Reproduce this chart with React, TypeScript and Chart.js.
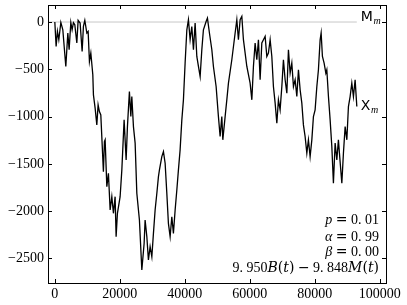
import React, { useEffect, useRef } from 'react';
import { Chart, registerables } from 'chart.js';

Chart.register(...registerables);

// Path of X(t) (t, value)
const tValues = [
  0, 400, 800, 1230, 1850, 2460, 3380, 4000, 4400, 4920, 5320, 5720, 6150, 6770, 7170, 7780, 8400, 8800, 9230, 9850,
  10250, 10650, 11080, 11690, 11880, 12400, 12920, 13320, 13720, 14150, 14950, 15260, 15480, 16000, 16490, 17020, 17540, 18030, 18550, 18860,
  19260, 20090, 20620, 21320, 21940, 22340, 22950, 23390, 23690, 24190, 24710, 25230, 26030, 26770, 27480, 27780, 28310, 28800, 29320, 29850,
  30340, 30860, 31390, 31880, 32190, 32920, 33420, 33940, 34460, 34950, 35480, 36000, 36490, 37020, 37540, 38030, 38550, 39080, 39570, 40090,
  40620, 41110, 41630, 42150, 42650, 43170, 43690, 44190, 44710, 45230, 45720, 46550, 46960, 47570, 48310, 48800, 49630, 50340, 50860, 51380,
  51690, 52400, 52920, 53420, 54460, 55480, 56000, 56490, 57020, 57540, 58030, 59080, 60090, 60620, 61110, 61630, 62150, 62650, 63170, 63690,
  64190, 64710, 65230, 65720, 66250, 66770, 67260, 67790, 68310, 68800, 69320, 69850, 70340, 70860, 71390, 71880, 72400, 72920, 73420, 73940,
  74460, 74960, 75480, 76000, 76490, 77010, 77540, 78030, 78550, 79080, 79570, 80090, 80620, 81110, 81630, 81940, 82340, 82860, 83390, 83690,
  84190, 84710, 85230, 85720, 86250, 86770, 87260, 87570, 88310, 88800, 89330, 89850, 90340, 90860, 91380, 91880, 92400, 92920,
];
const xValues = [
  0, -258, -100, -187, -4, -82, -470, -116, -293, -4, -82, -7, -29, -222, 17, -11, -311, -47, 17, -116,
  -100, -417, -328, -558, -770, -910, -1088, -876, -947, -982, -1582, -1264, -1246, -1741, -1599, -1988, -1847, -2023, -1847, -2270,
  -2023, -1847, -1564, -1035, -1459, -1106, -735, -1000, -788, -1106, -1281, -1811, -2094, -2623, -2340, -2094, -2270, -2517, -2376, -2482,
  -2235, -1988, -1811, -1635, -1564, -1423, -1370, -1493, -1811, -2129, -2270, -2059, -2235, -1988, -1776, -1564, -1352, -1035, -823, -434,
  -82, 24, -187, -47, -293, -11, -364, -470, -576, -293, -82, 6, 42, -116, -293, -470, -682, -1000, -1211, -1000,
  -1246, -1000, -823, -646, -399, -116, 24, -187, 24, 59, -187, -470, -646, -823, -470, -222, -399, -187, -611, -222,
  -187, -152, -364, -328, -187, -364, -682, -858, -1070, -823, -929, -682, -399, -611, -752, -293, -540, -434, -682, -611,
  -788, -505, -717, -858, -1088, -1211, -1387, -1246, -1423, -1246, -1000, -929, -682, -505, -187, -116, -364, -434, -540, -505,
  -788, -1035, -1317, -1705, -1281, -1458, -1246, -1387, -1705, -1387, -1106, -1246, -894, -788, -646, -788, -611, -894,
];

// Reference level M_m
const mLineT = [-2100, 92920];
const mLineV = [0, 0];

const xTicks = [0, 20000, 40000, 60000, 80000, 100000];
const yTicks = [0, -500, -1000, -1500, -2000, -2500];

const X_MIN = -2100;
const X_MAX = 101900;
const Y_MIN = -2760;
const Y_MAX = 180;

const labelM = { t: 94150, v: 53 };
const labelX = { t: 94150, v: -894 };

const SERIF = '"Liberation Serif", "DejaVu Serif", serif';
const DSERIF = '"DejaVu Serif", serif';
const R = `14px ${SERIF}`;
const I = `italic 14px ${SERIF}`;
const DI = `italic 14px ${DSERIF}`;
const DR = `14px ${DSERIF}`;
const SYM = '14px "DejaVu Sans", sans-serif';

const infoLines = [
  [{ t: 'p', f: I }, { t: ' ', f: R }, { t: '=', f: SYM }, { t: ' 0. 01', f: R }],
  [{ t: 'α', f: I }, { t: ' ', f: R }, { t: '=', f: SYM }, { t: ' 0. 99', f: R }],
  [{ t: 'β', f: I }, { t: ' ', f: R }, { t: '=', f: SYM }, { t: ' 0. 00', f: R }],
  [
    { t: '9. 950', f: R }, { t: 'B', f: DI }, { t: '(', f: DR }, { t: 't', f: DI }, { t: ')', f: DR },
    { t: ' ', f: R }, { t: '−', f: SYM }, { t: ' 9. 848', f: R }, { t: 'M', f: DI }, { t: '(', f: DR }, { t: 't', f: DI }, { t: ')', f: DR },
  ],
];

const fmt = (v: number) => (v < 0 ? '\u2212' + Math.abs(v) : String(v));

function drawRich(ctx: CanvasRenderingContext2D, segs: { t: string; f: string }[], xRight: number, y: number) {
  let total = 0;
  for (const s of segs) {
    ctx.font = s.f;
    total += ctx.measureText(s.t).width;
  }
  let x = xRight - total;
  for (const s of segs) {
    ctx.font = s.f;
    ctx.fillText(s.t, x, y);
    x += ctx.measureText(s.t).width;
  }
}

const framePlugin = {
  id: 'frameAndText',
  afterDraw(chart: any) {
    const { ctx, chartArea: a, scales } = chart;
    const xs = scales.x;
    const ys = scales.y;
    ctx.save();
    ctx.strokeStyle = '#000';
    ctx.lineWidth = 1;
    ctx.strokeRect(Math.round(a.left) + 0.5, Math.round(a.top) + 0.5, Math.round(a.right - a.left), Math.round(a.bottom - a.top));
    const TL = 4;
    ctx.beginPath();
    for (const v of xTicks) {
      const px = Math.round(xs.getPixelForValue(v)) + 0.5;
      ctx.moveTo(px, a.bottom);
      ctx.lineTo(px, a.bottom - TL);
      ctx.moveTo(px, a.top);
      ctx.lineTo(px, a.top + TL);
    }
    for (const v of yTicks) {
      const py = Math.round(ys.getPixelForValue(v)) + 0.5;
      ctx.moveTo(a.left, py);
      ctx.lineTo(a.left + TL, py);
      ctx.moveTo(a.right, py);
      ctx.lineTo(a.right - TL, py);
    }
    ctx.stroke();

    ctx.fillStyle = '#000';
    ctx.textBaseline = 'middle';
    ctx.textAlign = 'left';
    const drawSub = (main: string, lab: { t: number; v: number }) => {
      const px = xs.getPixelForValue(lab.t);
      const py = ys.getPixelForValue(lab.v);
      ctx.font = '14px "DejaVu Sans", sans-serif';
      ctx.fillText(main, px, py);
      const w = ctx.measureText(main).width;
      ctx.font = `italic 10px ${SERIF}`;
      ctx.fillText('m', px + w + 0.5, py + 4);
    };
    drawSub('M', labelM);
    drawSub('X', labelX);

    const xr = a.right - 7;
    const base = [a.bottom - 63, a.bottom - 46, a.bottom - 31, a.bottom - 15];
    infoLines.forEach((segs, i) => drawRich(ctx, segs, xr, base[i]));
    ctx.restore();
  },
};

export default function App() {
  const ref = useRef<HTMLCanvasElement | null>(null);
  useEffect(() => {
    if (!ref.current) return;
    const tickFont = { family: SERIF, size: 14 };
    const chart = new Chart(ref.current, {
      type: 'line',
      data: {
        datasets: [
          {
            label: 'X',
            data: tValues.map((t, i) => ({ x: t, y: xValues[i] })),
            borderColor: '#000',
            borderWidth: 1.3,
            pointRadius: 0,
            tension: 0,
            order: 0,
          },
          {
            label: 'M',
            data: mLineT.map((t, i) => ({ x: t, y: mLineV[i] })),
            borderColor: '#c8c8c8',
            borderWidth: 1,
            pointRadius: 0,
            tension: 0,
            order: 1,
          },
        ],
      },
      options: {
        responsive: false,
        animation: false,
        events: [],
        layout: { padding: { left: 0, right: 21, top: 5, bottom: 0 } },
        plugins: { legend: { display: false }, tooltip: { enabled: false } },
        scales: {
          x: {
            type: 'linear',
            min: X_MIN,
            max: X_MAX,
            grid: { display: false, drawTicks: false },
            border: { display: false },
            afterBuildTicks: (s: any) => {
              s.ticks = xTicks.map((v) => ({ value: v }));
            },
            afterFit: (s: any) => {
              s.height = 22;
              s.paddingLeft = 0;
              s.paddingRight = 0;
            },
            ticks: {
              font: tickFont,
              color: '#000',
              padding: 3,
              maxRotation: 0,
              autoSkip: false,
              callback: (v: any) => fmt(Number(v)),
            },
          },
          y: {
            type: 'linear',
            min: Y_MIN,
            max: Y_MAX,
            grid: { display: false, drawTicks: false },
            border: { display: false },
            afterBuildTicks: (s: any) => {
              s.ticks = yTicks.map((v) => ({ value: v }));
            },
            afterFit: (s: any) => {
              s.width = 48;
              s.paddingTop = 0;
              s.paddingBottom = 0;
            },
            ticks: {
              font: tickFont,
              color: '#000',
              padding: 4,
              autoSkip: false,
              callback: (v: any) => fmt(Number(v)),
            },
          },
        },
      },
      plugins: [framePlugin],
    });
    return () => chart.destroy();
  }, []);
  return (
    <div style={{ position: 'absolute', left: 0, top: 0, width: 407, height: 305, background: '#fff' }}>
      <canvas ref={ref} width={407} height={305} style={{ display: 'block' }} />
    </div>
  );
}
